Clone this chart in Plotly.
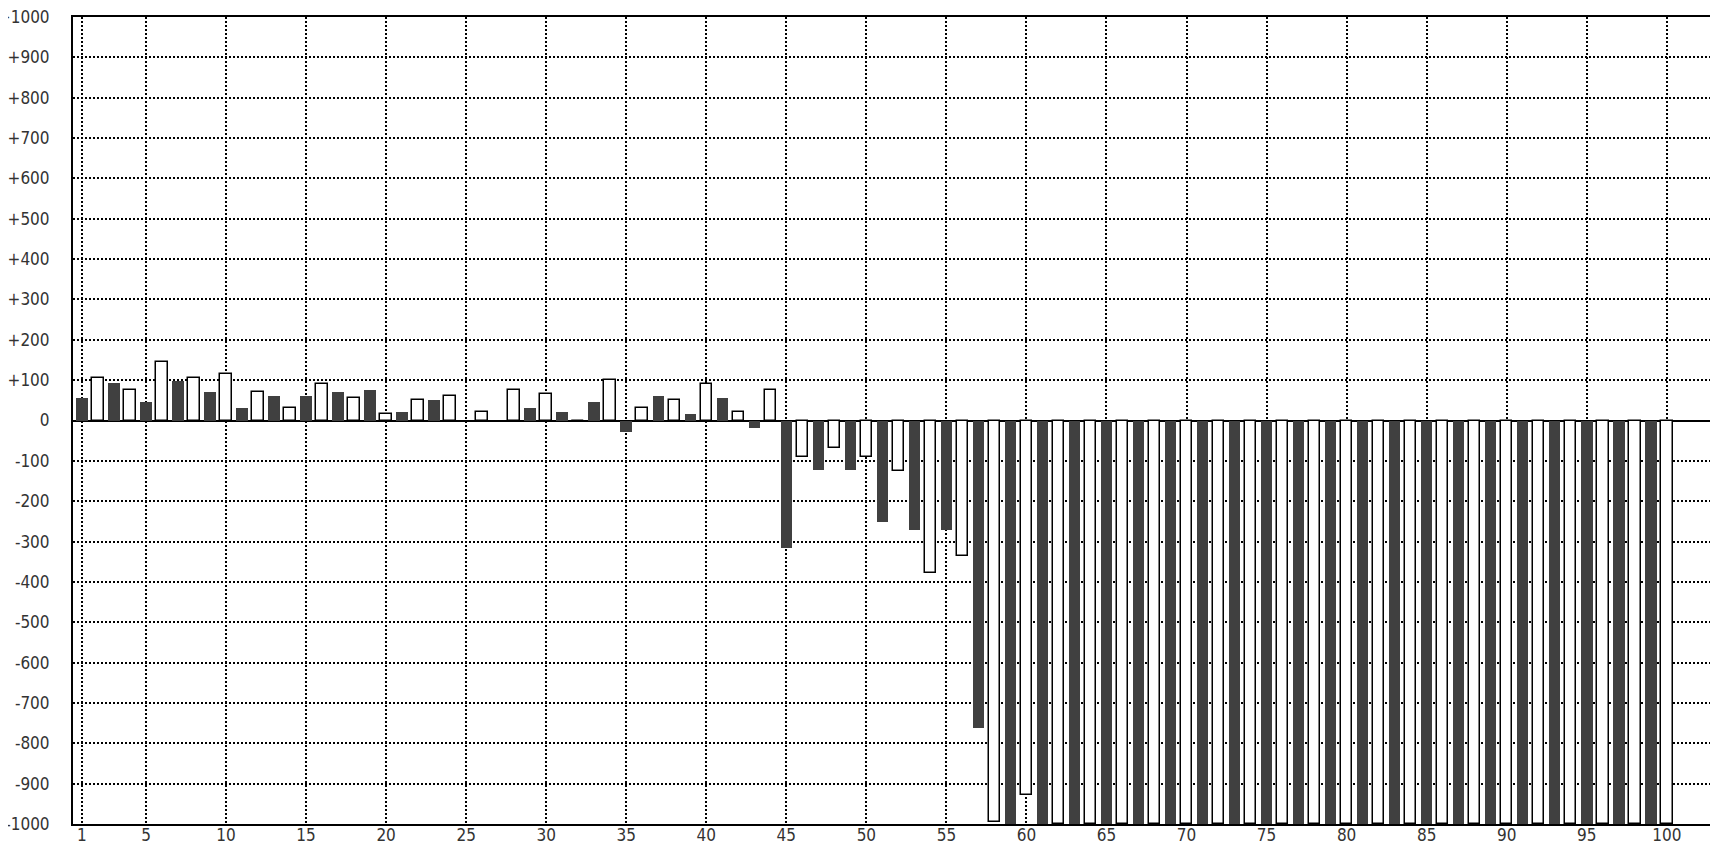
import plotly.graph_objects as go

# bar index 1..100 (odd = dark, even = white)
positions = list(range(1, 101))
values = [
    56, 105, 92, 76, 46, 146, 97, 105, 71, 116,
    31, 71, 61, 30, 61, 91, 71, 55, 76, 15,
    22, 50, 51, 60, 0, 20, 0, 76, 31, 66,
    21, 0, 46, 100, -29, 30, 61, 50, 16, 91,
    56, 20, -19, 76, -317, -91, -122, -67, -122, -91,
    -252, -126, -272, -377, -272, -335, -762, -995, -1000, -929,
] + [-1000] * 40

x_ticks = [1] + list(range(5, 101, 5))
y_ticks = list(range(-1000, 1001, 100))
y_labels = [f"+{v}" if v > 0 else str(v) for v in y_ticks]

DARK = "#404040"
fill = [DARK if p % 2 else "white" for p in positions]
edge = [DARK if p % 2 else "black" for p in positions]
edge_w = [0 if p % 2 else 1.5 for p in positions]

fig = go.Figure(
    go.Bar(
        x=positions,
        y=values,
        width=0.72,
        marker=dict(color=fill, line=dict(color=edge, width=edge_w)),
        hoverinfo="skip",
    )
)

font = dict(family="DejaVu Sans Condensed, DejaVu Sans", size=17, color="#333")

fig.update_xaxes(
    range=[0.44, 103.2],
    tickvals=x_ticks,
    ticktext=[str(v) for v in x_ticks],
    tickfont=font,
    ticks="",
    ticklabelstandoff=-5,
    showgrid=True,
    gridcolor="black",
    gridwidth=1.5,
    griddash="2px,2px",
    showline=True,
    linecolor="black",
    linewidth=2,
    mirror=True,
    zeroline=False,
    automargin=False,
    fixedrange=True,
)
fig.update_yaxes(
    range=[-1000, 1000],
    tickvals=y_ticks,
    ticktext=y_labels,
    tickfont=font,
    ticks="",
    ticklabelstandoff=18,
    ticklabeloverflow="allow",
    showgrid=True,
    gridcolor="black",
    gridwidth=1.5,
    griddash="2px,2px",
    showline=True,
    linecolor="black",
    linewidth=2,
    zeroline=True,
    zerolinecolor="black",
    zerolinewidth=2,
    automargin=False,
    fixedrange=True,
)

# the page body adds an 8px margin, so the figure is 8px smaller each way
fig.update_layout(
    width=1710,
    height=838,
    margin=dict(l=65, r=0, t=9, b=22),
    plot_bgcolor="white",
    paper_bgcolor="white",
    showlegend=False,
    bargap=0,
)

fig.write_html("out.html", config={"displayModeBar": False})
